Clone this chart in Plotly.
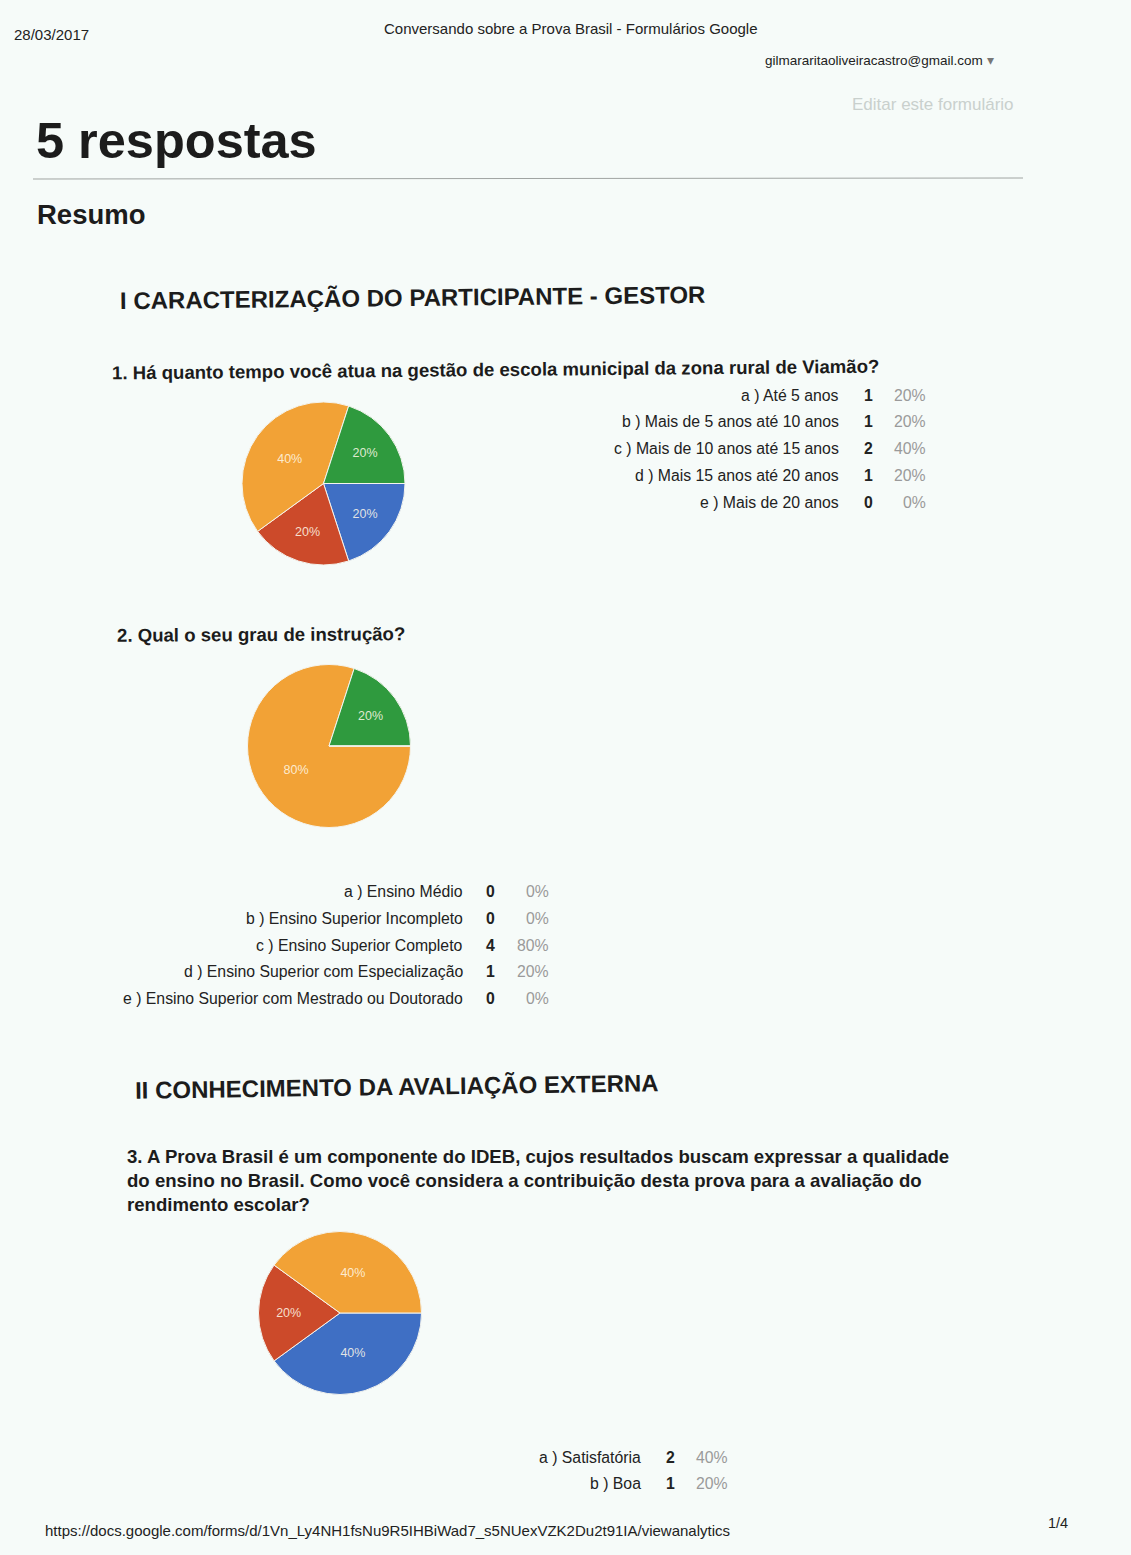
import plotly.graph_objects as go

W, H = 1131, 1555
FONT = "Arial, 'Liberation Sans', sans-serif"

# ---------------- data ----------------
date_text = "28/03/2017"
page_title = "Conversando sobre a Prova Brasil - Formulários Google"
user_email = "gilmararitaoliveiracastro@gmail.com"
edit_link = "Editar este formulário"
resp_title = "5 respostas"
summary_title = "Resumo"
section1 = "I CARACTERIZAÇÃO DO PARTICIPANTE - GESTOR"
section2 = "II CONHECIMENTO DA AVALIAÇÃO EXTERNA"

q1_title = "1. Há quanto tempo você atua na gestão de escola municipal da zona rural de Viamão?"
q1_labels = ["a ) Até 5 anos", "b ) Mais de 5 anos até 10 anos", "c ) Mais de 10 anos até 15 anos",
             "d ) Mais 15 anos até 20 anos", "e ) Mais de 20 anos"]
q1_counts = [1, 1, 2, 1, 0]
q1_pcts = ["20%", "20%", "40%", "20%", "0%"]

q2_title = "2. Qual o seu grau de instrução?"
q2_labels = ["a ) Ensino Médio", "b ) Ensino Superior Incompleto", "c ) Ensino Superior Completo",
             "d ) Ensino Superior com Especialização", "e ) Ensino Superior com Mestrado ou Doutorado"]
q2_counts = [0, 0, 4, 1, 0]
q2_pcts = ["0%", "0%", "80%", "20%", "0%"]

q3_title_lines = ["3. A Prova Brasil é um componente do IDEB, cujos resultados buscam expressar a qualidade",
                  "do ensino no Brasil. Como você considera a contribuição desta prova para a avaliação do",
                  "rendimento escolar?"]
q3_labels = ["a ) Satisfatória", "b ) Boa", "c )"]
q3_counts = [2, 1, 2]
q3_pcts = ["40%", "20%", "40%"]
q3_visible_rows = 2

footer_url = "https://docs.google.com/forms/d/1Vn_Ly4NH1fsNu9R5IHBiWad7_s5NUexVZK2Du2t91IA/viewanalytics"
page_num = "1/4"

# ---------------- style ----------------
BG = "#f6fbf9"
SLICE_COLORS = ["#3f6fc4", "#cc4a2a", "#f2a236", "#2f9a3e", "#990099"]
DARK = "#222222"
TITLE = "#1c1c1c"
GRAY = "#9a9a9a"

fig = go.Figure()
annotations = []


def px_x(x):
    return x / W


def px_y(y):
    return 1 - y / H


def ann(text, x, y, size, color=DARK, xanchor="left", bold=False, angle=0):
    if bold:
        text = "<b>" + text + "</b>"
    annotations.append(dict(text=text, x=px_x(x), y=px_y(y), xref="paper", yref="paper",
                            showarrow=False, xanchor=xanchor, yanchor="middle", textangle=angle,
                            font=dict(family=FONT, size=size, color=color)))


def add_pie(labels, counts, pcts, cx, cy, r):
    n = len(counts)
    fig.add_trace(go.Pie(
        labels=labels, values=counts, sort=False, direction="clockwise", rotation=90,
        text=[p if c > 0 else "" for p, c in zip(pcts, counts)],
        textinfo="text", textposition="inside", insidetextorientation="horizontal",
        textfont=dict(family=FONT, size=12.5, color="rgba(255,250,235,0.85)"),
        marker=dict(colors=SLICE_COLORS[:n], line=dict(color="#f4f4ee", width=1)),
        domain=dict(x=[px_x(cx - r), px_x(cx + r)], y=[px_y(cy + r), px_y(cy - r)]),
        showlegend=False, hoverinfo="label+value+percent",
    ))


def add_table(labels, counts, pcts, label_right, count_x, pct_right, y0, dy, rows=None):
    rows = len(labels) if rows is None else rows
    for i in range(rows):
        y = y0 + i * dy
        ann(labels[i], label_right, y, 15.8, DARK, "right")
        ann(str(counts[i]), count_x, y, 15.8, DARK, "center", bold=True)
        ann(pcts[i], pct_right, y, 15.8, GRAY, "right")


# header
ann(date_text, 12, 35, 15)
ann(page_title, 382, 28, 15)
ann(user_email + " <span style='color:#777'>▾</span>", 763, 60, 13.5)
ann(edit_link, 1016, 104, 17, "#c9d0cd", "right")
ann(resp_title, 34, 141, 50.5, TITLE, bold=True)
ann(summary_title, 35, 215, 27.5, TITLE, bold=True)

# section 1
ann(section1, 118, 297, 24, TITLE, bold=True, angle=-0.6)
ann(q1_title, 110, 369.5, 18.6, TITLE, bold=True, angle=-0.5)
add_pie(q1_labels, q1_counts, q1_pcts, 323.5, 483.5, 81.5)
add_table(q1_labels, q1_counts, q1_pcts, 841, 868, 928, 395, 26.8)

ann(q2_title, 115, 634, 18.6, TITLE, bold=True, angle=-0.3)
add_pie(q2_labels, q2_counts, q2_pcts, 329, 746, 81.5)
add_table(q2_labels, q2_counts, q2_pcts, 465, 491, 551, 891.5, 26.8)

# section 2
ann(section2, 133, 1086.5, 24, TITLE, bold=True, angle=-0.8)
q3_line_y = [1156, 1180.5, 1204.5]
for line, yy in zip(q3_title_lines, q3_line_y):
    ann(line, 125, yy, 18.6, TITLE, bold=True)
add_pie(q3_labels, q3_counts, q3_pcts, 340, 1313, 81.5)
add_table(q3_labels, q3_counts, q3_pcts, 643, 670, 730, 1457, 26, rows=q3_visible_rows)

# footer
ann(footer_url, 43, 1530, 15)
ann(page_num, 1046, 1523, 14.5)

shapes = [dict(type="line", xref="paper", yref="paper",
               x0=px_x(33), x1=px_x(1023), y0=px_y(179), y1=px_y(178),
               line=dict(color="#a0a4a2", width=1))]

fig.update_layout(
    width=W, height=H, margin=dict(l=0, r=0, t=0, b=0),
    paper_bgcolor=BG, plot_bgcolor=BG,
    annotations=annotations, shapes=shapes,
    font=dict(family=FONT),
)

fig.write_html("out.html")
